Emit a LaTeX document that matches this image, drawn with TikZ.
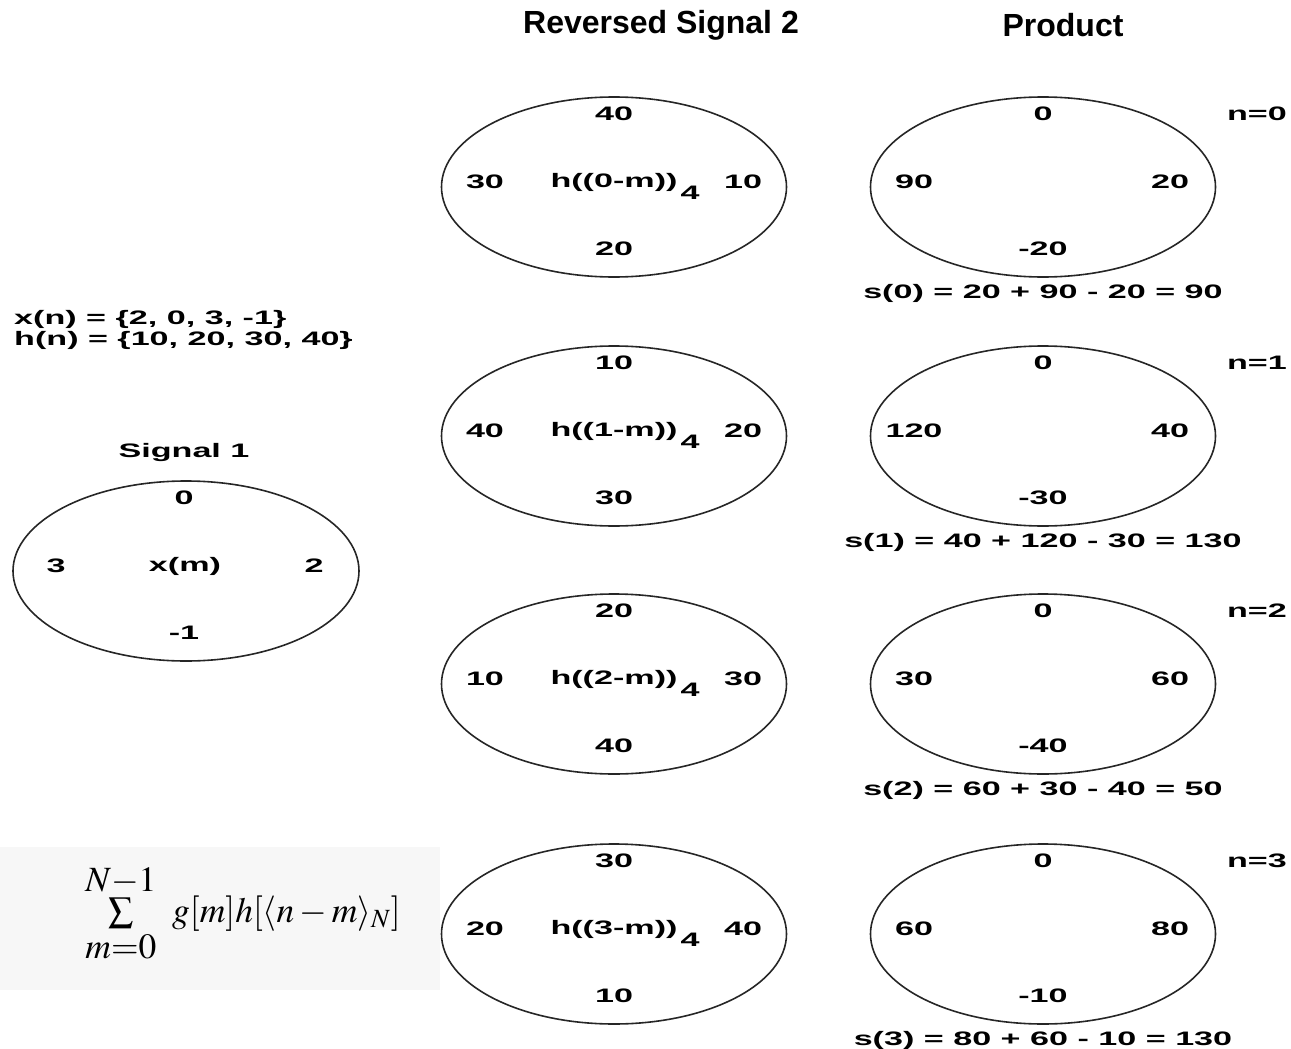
\documentclass[tikz,border=0pt]{standalone}
\usepackage{mathptmx}
\usepackage[no-math]{fontspec}
\usetikzlibrary{shapes.geometric}
\newfontfamily\widesans[FakeStretch=1.75]{Liberation Sans}
\newfontfamily\titlesans{Liberation Sans}
\begin{document}
\begin{tikzpicture}[x=1pt,y=-1pt,
  lbl/.style={font=\widesans\bfseries\fontsize{19.5}{22}\selectfont, inner sep=0pt, text=black},
  ttl/.style={font=\titlesans\bfseries\fontsize{32}{35}\selectfont, inner sep=0pt},
  ring/.style={draw=black!85, line width=1.6pt, ellipse, inner sep=0pt,
               minimum width=345pt, minimum height=180pt}]
\useasboundingbox (0,0) rectangle (1291,1049);

% column titles
\node[ttl] (ttlrev) at (661,25) {Reversed Signal 2};
\node[ttl] (ttlprod) at (1063,25) {Product};

% input sequences
\node[lbl, anchor=west] (xdef) at (14,319) {x(n) = \{2, 0, 3, -1\}};
\node[lbl, anchor=west] (hdef) at (14,340) {h(n) = \{10, 20, 30, 40\}};

% signal 1
\node[lbl] (sigttl) at (184,452) {Signal 1};
\node[ring, minimum width=346pt, minimum height=180pt] (sig) at (186,571) {};
\node[lbl] (sigtop) at (184,498) {0};
\node[lbl] (sigleft) at (56,566) {3};
\node[lbl] (sigmid) at (185,566) {x(m)};
\node[lbl] (sigright) at (314,566) {2};
\node[lbl] (sigbot) at (184,633) {-1};

% circular convolution formula
\node[fill=black!3, minimum width=440pt, minimum height=143pt, inner sep=0pt, anchor=north west] (fbox) at (0,847) {};
\node[inner sep=0pt, font=\fontsize{35.5}{39}\selectfont] (formula) at (243,913)
  {$\mathop{\textstyle\sum}\limits^{\textstyle N{-}1}_{\textstyle m{=}0}\;\, g[m]h[\langle n-m\rangle_N]$};

% reversed signal 2 and product for n = 0..3
\foreach \k/\cy/\t/\l/\r/\b/\pl/\pr/\pb/\eq in {
  0/187/40/30/10/20/90/20/-20/{s(0) = 20 + 90 - 20 = 90},
  1/436/10/40/20/30/120/40/-30/{s(1) = 40 + 120 - 30 = 130},
  2/684/20/10/30/40/30/60/-40/{s(2) = 60 + 30 - 40 = 50},
  3/934/30/20/40/10/60/80/-10/{s(3) = 80 + 60 - 10 = 130}} {
  % reversed, shifted copy of h
  \node[ring] (rev\k) at (614,\cy) {};
  \node[lbl] (rev\k top) at (614,\cy-73) {\t};
  \node[lbl] (rev\k left) at (485,\cy-5) {\l};
  \node[lbl] (rev\k mid) at (614,\cy-5) {h((\k-m))};
  \node[lbl] (rev\k sub) at (690,\cy+6) {4};
  \node[lbl] (rev\k right) at (743,\cy-5) {\r};
  \node[lbl] (rev\k bot) at (614,\cy+62) {\b};
  % pointwise product
  \node[ring] (prod\k) at (1043,\cy) {};
  \node[lbl] (prod\k top) at (1043,\cy-73) {0};
  \node[lbl] (prod\k left) at (914,\cy-5) {\pl};
  \node[lbl] (prod\k right) at (1170,\cy-5) {\pr};
  \node[lbl] (prod\k bot) at (1043,\cy+62) {\pb};
  \node[lbl] (nidx\k) at (1257,\cy-73) {n=\k};
  \node[lbl] (sum\k) at (1043,\cy+106) {\eq};
}
\end{tikzpicture}
\end{document}
